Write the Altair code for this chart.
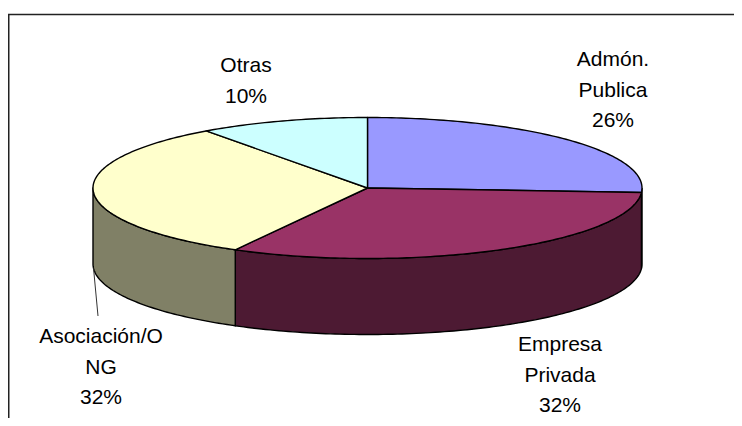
import math
import altair as alt
import pandas as pd

# ---- data ----
categories = ["Admón. Publica", "Empresa Privada", "Asociación/ONG", "Otras"]
label_lines = [["Admón.", "Publica"], ["Empresa", "Privada"], ["Asociación/O", "NG"], ["Otras"]]
values = [26, 32, 32, 10]

# ---- styles / layout ----
top_colors = ["#9999FF", "#993366", "#FFFFCC", "#CCFFFF"]
side_colors = ["#4D4D80", "#4D1A33", "#808066", "#668080"]
label_pos = [(613, 66), (560, 351), (101, 343), (246, 72)]
CX, CY, RX, RY, DEPTH = 367.5, 188.0, 274.5, 70.5, 76.0
W, H = 726, 410


def pt(theta, dy=0.0):
    r = math.radians(theta)
    return CX + RX * math.sin(r), CY - RY * math.cos(r) + dy


def arc(a, b, dy=0.0):
    n = max(2, int(abs(b - a)) + 1)
    return [pt(a + (b - a) * k / (n - 1), dy) for k in range(n)]


total = sum(values)
starts, ends = [], []
acc = 0.0
for v in values:
    starts.append(acc / total * 360)
    acc += v
    ends.append(acc / total * 360)

top_rows, side_rows = [], []
for cat, a, b in zip(categories, starts, ends):
    pts = [(CX, CY)] + arc(a, b) + [(CX, CY)]
    for i, (x, y) in enumerate(pts):
        top_rows.append({"poly": cat, "i": i, "x": x, "y": y})
    s, e = max(a, 90.0), min(b, 270.0)
    if e > s:
        spts = arc(s, e) + arc(e, s, DEPTH)
        spts.append(spts[0])
        for i, (x, y) in enumerate(spts):
            side_rows.append({"poly": cat, "i": i, "x": x, "y": y})

top_df = pd.DataFrame(top_rows)
side_df = pd.DataFrame(side_rows)

lab_rows = []
for cat, lines, v, (lx, ly) in zip(categories, label_lines, values, label_pos):
    pct = round(v / total * 100)
    lab_rows.append({"cat": cat, "text": "\n".join(lines + [f"{pct}%"]), "x": lx, "y": ly})
lab_df = pd.DataFrame(lab_rows)

# leader line for the Asociación label: from pie bottom edge at mid-angle to label top
k = categories.index("Asociación/ONG")
mid = (starts[k] + ends[k]) / 2
sx, sy = pt(mid, DEPTH)
lx, ly = label_pos[k]
lead_df = pd.DataFrame([{"x": sx, "y": sy, "x2": lx - 3, "y2": ly - 27}])

xs = alt.Scale(domain=[8, 8 + W], nice=False, zero=False)
ys = alt.Scale(domain=[8 + H, 8], nice=False, zero=False)

sides = alt.Chart(side_df).mark_line(stroke="black", strokeWidth=1.4, strokeJoin="round").encode(
    x=alt.X("x:Q", scale=xs, axis=None),
    y=alt.Y("y:Q", scale=ys, axis=None),
    fill=alt.Fill("poly:N", scale=alt.Scale(domain=categories, range=side_colors), legend=None),
    order=alt.Order("i:Q"),
    detail="poly:N",
)

tops = alt.Chart(top_df).mark_line(stroke="black", strokeWidth=1.4, strokeJoin="round").encode(
    x=alt.X("x:Q", scale=xs, axis=None),
    y=alt.Y("y:Q", scale=ys, axis=None),
    fill=alt.Fill("poly:N", scale=alt.Scale(domain=categories, range=top_colors), legend=None),
    order=alt.Order("i:Q"),
    detail="poly:N",
)

labels = alt.Chart(lab_df).mark_text(
    lineBreak="\n", fontSize=21, font="Liberation Sans", align="center",
    baseline="alphabetic", lineHeight=30.5, color="black",
).encode(
    x=alt.X("x:Q", scale=xs, axis=None),
    y=alt.Y("y:Q", scale=ys, axis=None),
    text="text:N",
)

leader = alt.Chart(lead_df).mark_rule(color="#333", strokeWidth=1).encode(
    x=alt.X("x:Q", scale=xs, axis=None),
    y=alt.Y("y:Q", scale=ys, axis=None),
    x2="x2:Q",
    y2="y2:Q",
)

border_top = alt.Chart(lead_df).mark_rule(color="#222", strokeWidth=1.5).encode(
    x=alt.value(0), x2=alt.value(W + 10), y=alt.value(6.5)
)
border_left = alt.Chart(lead_df).mark_rule(color="#222", strokeWidth=1.5).encode(
    x=alt.value(0.75), y=alt.value(6), y2=alt.value(H + 10)
)

chart = alt.layer(sides, tops, leader, labels, border_top, border_left).resolve_scale(
    fill="independent"
).properties(
    width=W, height=H, padding=0, autosize=alt.AutoSizeParams(type="none"), background="white"
).configure_view(stroke=None)

chart.save("out.html", embed_options={"renderer": "svg", "actions": False})
